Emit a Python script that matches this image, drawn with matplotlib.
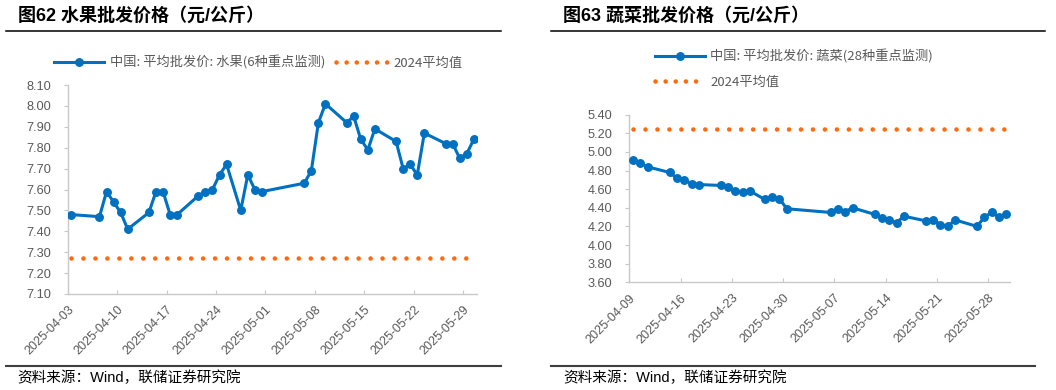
import matplotlib
matplotlib.use('Agg')
import matplotlib.pyplot as plt
import pandas as pd
from matplotlib.lines import Line2D

plt.rcParams['font.family'] = ['Liberation Sans', 'Noto Sans CJK SC', 'DejaVu Sans']

# fruit: 6 key varieties, yuan/kg
fruit_dates = ['2025-04-03', '2025-04-07', '2025-04-08', '2025-04-09', '2025-04-10', '2025-04-11',
               '2025-04-14', '2025-04-15', '2025-04-16', '2025-04-17', '2025-04-18',
               '2025-04-21', '2025-04-22', '2025-04-23', '2025-04-24', '2025-04-25',
               '2025-04-27', '2025-04-28', '2025-04-29', '2025-04-30',
               '2025-05-06', '2025-05-07', '2025-05-08', '2025-05-09',
               '2025-05-12', '2025-05-13', '2025-05-14', '2025-05-15', '2025-05-16',
               '2025-05-19', '2025-05-20', '2025-05-21', '2025-05-22', '2025-05-23',
               '2025-05-26', '2025-05-27', '2025-05-28', '2025-05-29', '2025-05-30']
fruit_prices = [7.48, 7.47, 7.59, 7.54, 7.49, 7.41,
                7.49, 7.59, 7.59, 7.48, 7.48,
                7.57, 7.59, 7.60, 7.67, 7.72,
                7.50, 7.67, 7.60, 7.59,
                7.63, 7.69, 7.92, 8.01,
                7.92, 7.95, 7.84, 7.79, 7.89,
                7.83, 7.70, 7.72, 7.67, 7.87,
                7.82, 7.82, 7.75, 7.77, 7.84]
fruit_avg_2024 = 7.27
fruit_ticks = ['2025-04-03', '2025-04-10', '2025-04-17', '2025-04-24', '2025-05-01',
               '2025-05-08', '2025-05-15', '2025-05-22', '2025-05-29']
fruit_yticks = [7.10, 7.20, 7.30, 7.40, 7.50, 7.60, 7.70, 7.80, 7.90, 8.00, 8.10]

# vegetables: 28 key varieties, yuan/kg
veg_dates = ['2025-04-09', '2025-04-10', '2025-04-11',
             '2025-04-14', '2025-04-15', '2025-04-16', '2025-04-17', '2025-04-18',
             '2025-04-21', '2025-04-22', '2025-04-23', '2025-04-24', '2025-04-25',
             '2025-04-27', '2025-04-28', '2025-04-29', '2025-04-30',
             '2025-05-06', '2025-05-07', '2025-05-08', '2025-05-09',
             '2025-05-12', '2025-05-13', '2025-05-14', '2025-05-15', '2025-05-16',
             '2025-05-19', '2025-05-20', '2025-05-21', '2025-05-22', '2025-05-23',
             '2025-05-26', '2025-05-27', '2025-05-28', '2025-05-29', '2025-05-30']
veg_prices = [4.91, 4.88, 4.84,
              4.78, 4.72, 4.70, 4.66, 4.65,
              4.64, 4.62, 4.58, 4.57, 4.58,
              4.49, 4.52, 4.50, 4.39,
              4.35, 4.39, 4.36, 4.40,
              4.33, 4.29, 4.27, 4.24, 4.31,
              4.26, 4.27, 4.22, 4.20, 4.27,
              4.20, 4.30, 4.35, 4.30, 4.33]
veg_avg_2024 = 5.25
veg_ticks = ['2025-04-09', '2025-04-16', '2025-04-23', '2025-04-30',
             '2025-05-07', '2025-05-14', '2025-05-21', '2025-05-28']
veg_yticks = [3.60, 3.80, 4.00, 4.20, 4.40, 4.60, 4.80, 5.00, 5.20, 5.40]

BLUE = '#0070C0'
ORANGE = '#FF6A0E'
GRAY_TXT = '#595959'
AXIS_GRAY = '#C8C8C8'
W, H = 1056, 390


def draw_panel(ax, dates, prices, avg, ticks, yticks, xend):
    x = pd.to_datetime(dates) + pd.Timedelta(hours=12)
    ax.plot(x, [avg] * len(x), color=ORANGE, lw=3.3, linestyle=(0, (0.01, 2.6)),
            dash_capstyle='round', zorder=2)
    ax.plot(x, prices, color=BLUE, lw=2.2, marker='o', markersize=5.4, zorder=3)
    ax.set_xlim(pd.Timestamp(ticks[0]), pd.Timestamp(xend))
    ax.set_ylim(yticks[0], yticks[-1])
    ax.set_yticks(yticks)
    ax.set_yticklabels([f'{v:.2f}' for v in yticks])
    ax.set_xticks(pd.to_datetime(ticks))
    ax.set_xticklabels(ticks, rotation=45, ha='right', va='top', rotation_mode='anchor')
    for s in ['top', 'right']:
        ax.spines[s].set_visible(False)
    for s in ['left', 'bottom']:
        ax.spines[s].set_color(AXIS_GRAY)
        ax.spines[s].set_linewidth(1.0)
    ax.tick_params(axis='y', direction='out', length=3, color=AXIS_GRAY,
                   labelcolor=GRAY_TXT, labelsize=9.2, pad=9)
    ax.tick_params(axis='x', direction='in', length=3, color=AXIS_GRAY,
                   labelcolor=GRAY_TXT, labelsize=9, pad=7)


fig = plt.figure(figsize=(W / 100, H / 100), dpi=100)
fig.patch.set_facecolor('white')

ax1 = fig.add_axes([67.7 / W, 1 - 294 / H, (477.3 - 67.7) / W, (294 - 85) / H])
draw_panel(ax1, fruit_dates, fruit_prices, fruit_avg_2024, fruit_ticks, fruit_yticks, '2025-05-31')

ax2 = fig.add_axes([629.3 / W, 1 - 282.3 / H, (1010 - 629.3) / W, (282.3 - 114.7) / H])
draw_panel(ax2, veg_dates, veg_prices, veg_avg_2024, veg_ticks, veg_yticks, '2025-05-31')

# legends
h_blue = Line2D([], [], color=BLUE, lw=2.2, marker='o', markersize=5.4)
h_orange = Line2D([], [], color=ORANGE, lw=3.3, linestyle=(0, (0.01, 2.2)), dash_capstyle='round')
leg_font = {'family': ['Noto Sans CJK SC', 'DejaVu Sans'], 'size': 9.5}

fig.legend([h_blue, h_orange], ['中国: 平均批发价: 水果(6种重点监测)', '2024平均值'],
           loc='center', bbox_to_anchor=(258 / W, 1 - 63 / H), ncol=2, frameon=False,
           prop=leg_font, labelcolor=GRAY_TXT, handlelength=3.8, handletextpad=0.5,
           columnspacing=0.8, borderpad=0, borderaxespad=0)

fig.legend([h_blue, h_orange], ['中国: 平均批发价: 蔬菜(28种重点监测)', '2024平均值'],
           loc='center left', bbox_to_anchor=(655 / W, 1 - 69.2 / H), ncol=1, frameon=False,
           prop=leg_font, labelcolor=GRAY_TXT, handlelength=3.8, handletextpad=0.4,
           labelspacing=0.9, borderpad=0, borderaxespad=0)

# titles, rules and source notes
title_font = ['Liberation Sans', 'Noto Sans CJK SC', 'DejaVu Sans']
fig.text(18 / W, 1 - 16 / H, '图62 水果批发价格（元/公斤）', fontsize=13, fontweight='bold',
         family=title_font, va='center', ha='left', color='black')
fig.text(563 / W, 1 - 16 / H, '图63 蔬菜批发价格（元/公斤）', fontsize=13, fontweight='bold',
         family=title_font, va='center', ha='left', color='black')

for x0, x1 in [(6, 501), (550.7, 1045)]:
    fig.add_artist(Line2D([x0 / W, x1 / W], [1 - 31.3 / H] * 2, color='black', lw=1.1))
for x0, x1 in [(6, 501), (550.7, 1035)]:
    fig.add_artist(Line2D([x0 / W, x1 / W], [1 - 365.7 / H] * 2, color='#3F3F3F', lw=1.5))

fig.text(17.5 / W, 1 - 378 / H, '资料来源：Wind，联储证券研究院', fontsize=10.5,
         family=title_font, va='center', ha='left', color='black')
fig.text(563 / W, 1 - 378 / H, '资料来源：Wind，联储证券研究院', fontsize=10.5,
         family=title_font, va='center', ha='left', color='black')

fig.savefig('out.png', dpi=100, facecolor='white')
